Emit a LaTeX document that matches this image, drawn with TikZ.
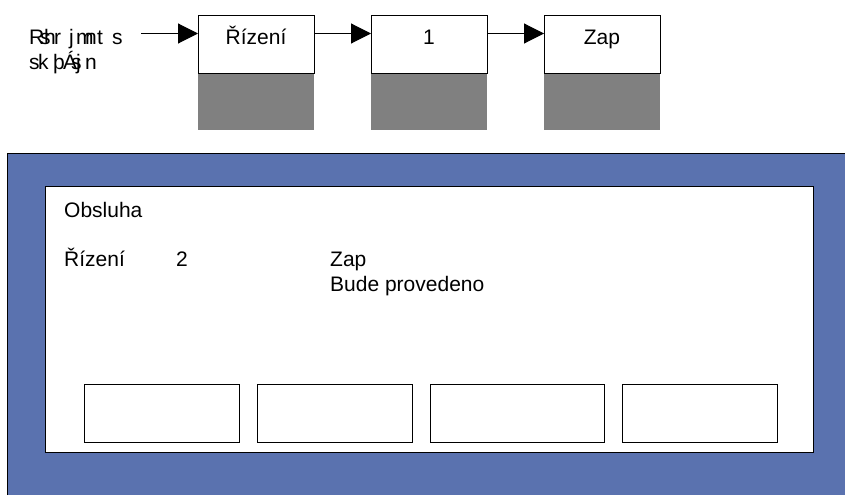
\documentclass[tikz,border=0pt]{standalone}
\usepackage{fontspec}
\setmainfont{Liberation Sans}
\usetikzlibrary{arrows.meta}
\definecolor{panel}{HTML}{5A72AF}
\newcommand{\gl}[2]{\makebox[0pt][l]{\hspace*{#1pt}#2}}
\tikzset{
  x=1pt,y=-1pt,
  txt/.style={font=\fontsize{21}{24}\selectfont,inner sep=0pt,anchor=base west},
  tbox/.style={draw=black,line width=1.3pt,fill=white,minimum width=116pt,minimum height=58pt,inner sep=0pt,anchor=north west},
  shade/.style={fill=black!50,draw=none,minimum width=116pt,minimum height=57pt,inner sep=0pt,anchor=north west},
  btn/.style={draw=black,line width=1.2pt,fill=white,minimum height=58pt,inner sep=0pt,anchor=north west},
  arr/.style={draw=black,line width=1.1pt,-{Triangle[length=20pt,width=20pt]}},
  panelbox/.style={draw=black,line width=1.3pt,fill=white,inner sep=0pt,anchor=north west,minimum width=768pt,minimum height=266pt}
}
\begin{document}
\begin{tikzpicture}
\useasboundingbox (0,0) rectangle (845,495);
\fill[white] (0,0) rectangle (845,495);
\node[shade] (s1) at (198,73) {};
\node[shade] (s2) at (371,73) {};
\node[shade] (s3) at (544,73) {};
\node[tbox] (b1) at (198,14.7) {};
\node[tbox] (b2) at (371,14.7) {};
\node[tbox] (b3) at (544,14.7) {};
\node[txt,anchor=base] (t1) at (256,45) {Řízení};
\node[txt,anchor=base] (t2) at (429,45) {1};
\node[txt,anchor=base] (t3) at (602,45) {Zap};
\coordinate (start) at (141,33.5);
\draw[arr] (start) -- (start -| b1.west);
\draw[arr] (b1.east |- start) -- (start -| b2.west);
\draw[arr] (b2.east |- start) -- (start -| b3.west);
\node[txt] (l1) at (29,45) {\gl{0}{R}\gl{11}{s}\gl{15}{h}\gl{25}{r}\gl{40}{j}\gl{47}{m}\gl{56}{n}\gl{68}{t}\gl{83}{s}\hspace*{93pt}};
\node[txt] (l2) at (29,70) {\gl{0}{s}\gl{9}{k}\gl{24}{þ}\gl{34}{Á}\gl{42}{s}\gl{47}{j}\gl{56}{n}\hspace*{68pt}};
\fill[panel] (7.5,153.5) rectangle (845,495);
\draw[black,line width=1.3pt] (7.5,495) -- (7.5,153.5) -- (845,153.5);
\node[panelbox] (inner) at (45,186) {};
\node[txt] (o) at (64,217) {Obsluha};
\node[txt] (r) at (64,266) {Řízení};
\node[txt] (n) at (176,266) {2};
\node[txt] (z) at (330,266) {Zap};
\node[txt] (bp) at (330,291) {Bude provedeno};
\node[btn,minimum width=155pt] (k1) at (84,384) {};
\node[btn,minimum width=155pt] (k2) at (257,384) {};
\node[btn,minimum width=174pt] (k3) at (430,384) {};
\node[btn,minimum width=155pt] (k4) at (622,384) {};
\end{tikzpicture}
\end{document}
